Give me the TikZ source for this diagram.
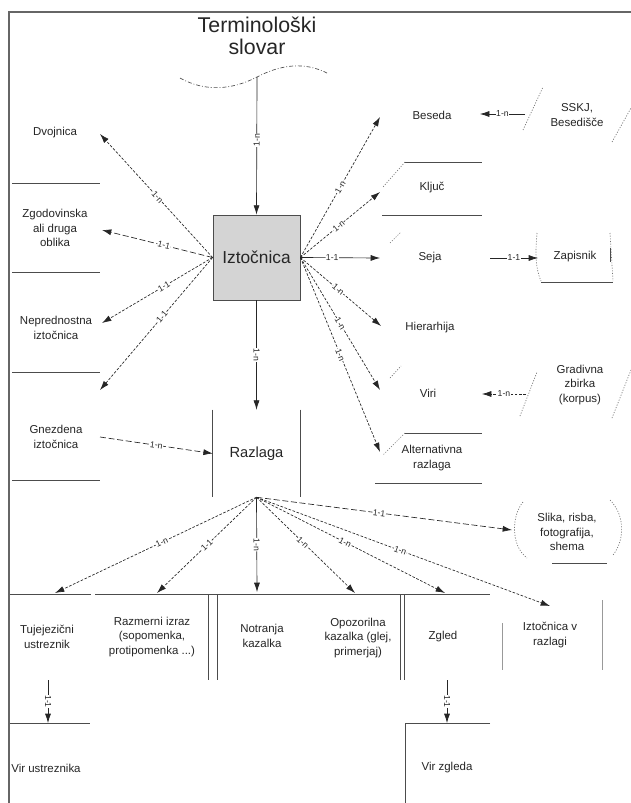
\documentclass[tikz,border=0pt]{standalone}
\usepackage{fontspec}
\setmainfont{Liberation Sans}
\usetikzlibrary{arrows.meta}
\begin{document}
\begin{tikzpicture}[x=0.75pt,y=-0.75pt,
  txt/.style={font=\fontsize{8.6}{11}\selectfont, align=center, inner sep=1pt, text=black!85},
  card/.style={font=\fontsize{6.5}{7}\selectfont, fill=white, inner sep=0.3pt, sloped, text=black!85},
  link/.style={draw=black!85, line width=0.5pt, -{Latex[length=7pt,width=4.5pt]}},
  flink/.style={link, dash pattern=on 2pt off 1.2pt},
  llink/.style={link, dash pattern=on 4.5pt off 2pt},
  edge/.style={draw=black!70, line width=0.6pt},
  dots/.style={draw=black!55, line width=0.5pt, dash pattern=on 0.8pt off 1.2pt},
  frame/.style={draw=black!60, line width=0.9pt},
]
\useasboundingbox (0,0) rectangle (631,803);
\fill[white] (0,0) rectangle (631,803);
\draw[frame] (9,803) -- (9,12) -- (631,12);

% ---- dictionary source ----
\node[font=\fontsize{16}{16.5}\selectfont, align=center, text=black!85] (slovar) at (257,36) {Terminološki\\slovar};
\coordinate (wave) at (257,77);
\draw[draw=black!70, line width=0.5pt, dash pattern=on 3pt off 1.5pt on 0.6pt off 1.5pt]
  (180,78) .. controls (205,92) and (232,90) .. (wave) .. controls (282,64) and (305,62) .. (327,73);

% ---- central entities ----
\node[draw=black!70, fill=black!17, line width=0.6pt, minimum width=65.25pt, minimum height=63.75pt,
      font=\fontsize{13}{15}\selectfont, text=black!85] (izt) at (256.5,257.5) {Iztočnica};
\node[minimum width=65.25pt, minimum height=65.25pt, inner sep=0pt,
      font=\fontsize{11}{13}\selectfont, text=black!85] (razl) at (256.5,453.5) {Razlaga};
\draw[edge] (razl.north west) -- (razl.south west) (razl.north east) -- (razl.south east);

\draw[link] (wave) -- node[card, pos=0.46]{1-n} (izt.north);
\draw[link] (izt.south) -- node[card]{1-n} (razl.north);

% ---- left column ----
\node[txt] (dvo) at (55,133) {Dvojnica};
\node[txt] (zgo) at (55,228) {Zgodovinska\\ali druga\\oblika};
\node[txt] (nep) at (56,328) {Neprednostna\\iztočnica};
\node[txt] (gne) at (56,437) {Gnezdena\\iztočnica};
\draw[edge] (12,183) -- (100,183) (12,272) -- (100,272) (12,372) -- (100,372) (12,480) -- (100,480);

\coordinate (tDvo) at (100,134);
\coordinate (tZgo) at (102,230);
\coordinate (tNep) at (102,323);
\coordinate (tGne) at (100,390);
\coordinate (sGne) at (100,437);
\draw[flink] (izt.west) -- node[card, pos=0.49]{1-n} (tDvo);
\draw[llink] (izt.west) -- node[card, pos=0.44]{1-1} (tZgo);
\draw[flink] (izt.west) -- node[card, pos=0.44]{1-1} (tNep);
\draw[flink] (izt.west) -- node[card, pos=0.45]{1-1} (tGne);
\draw[llink] (sGne) -- node[card, pos=0.5]{1-n} (razl.west);

% ---- right column ----
\node[txt] (bes) at (432,115) {Beseda};
\node[txt] (sskj) at (577,115) {SSKJ,\\Besedišče};
\node[txt] (klj) at (432,188) {Ključ};
\node[txt] (seja) at (430,258) {Seja};
\node[txt] (zap) at (575,257) {Zapisnik};
\node[txt] (hie) at (430,328) {Hierarhija};
\node[txt] (viri) at (428,393) {Viri};
\node[txt] (gra) at (580,385) {Gradivna\\zbirka\\(korpus)};
\node[txt] (alt) at (432,458) {Alternativna\\razlaga};

\draw[edge] (405,162) -- (482,162);
\draw[dots] (405,162) -- (383,187);
\draw[edge] (382,215) -- (482,215);
\draw[edge] (405,433) -- (482,433);
\draw[dots] (405,433) -- (383,455);
\draw[edge] (375,483) -- (482,483);
\draw[dots] (523,130) -- (543,87);
\draw[dots] (612,142) -- (631,108);
\draw[dots] (537,233) .. controls (535,255) and (536,270) .. (541,281);
\draw[edge] (541,282) -- (613,282);
\draw[dots] (610,233) -- (613,281);
\draw[edge] (610,248) -- (610,262);
\draw[dots] (520,416) -- (537,372);
\draw[dots] (612,418) -- (631,370);
\draw[dots] (390,243) -- (401,232);
\draw[dots] (390,378) -- (401,366);

\coordinate (tBes) at (380,117);
\coordinate (tKlj) at (380,192);
\coordinate (tSeja) at (380,258);
\coordinate (tHie) at (381,326);
\coordinate (tViri) at (380,390);
\coordinate (tAlt) at (380,452);
\draw[flink] (izt.east) -- node[card, pos=0.5]{1-n} (tBes);
\draw[flink] (izt.east) -- node[card, pos=0.48]{1-n} (tKlj);
\draw[link] (izt.east) -- node[card, pos=0.4]{1-1} (tSeja);
\draw[flink] (izt.east) -- node[card, pos=0.47]{1-n} (tHie);
\draw[flink] (izt.east) -- node[card, pos=0.5]{1-n} (tViri);
\draw[flink] (izt.east) -- node[card, pos=0.5]{1-n} (tAlt);

\coordinate (sSskj) at (525,114);
\coordinate (hBes) at (480,114);
\coordinate (sSeja) at (490,258);
\coordinate (hZap) at (538,258);
\coordinate (sGra) at (526,394);
\coordinate (hViri) at (482,394);
\draw[link] (sSskj) -- node[card]{1-n} (hBes);
\draw[link] (sSeja) -- node[card]{1-1} (hZap);
\draw[flink] (sGra) -- node[card]{1-n} (hViri);

% ---- picture attachment ----
\node[txt] (sli) at (567,532) {Slika, risba,\\fotografija,\\shema};
\draw[dots] (523,502) .. controls (512,515) and (510,545) .. (527,558);
\draw[dots] (610,500) .. controls (625,515) and (625,540) .. (613,555);
\draw[edge] (552,563) -- (607,563);
\coordinate (tSli) at (512,530);
\draw[llink] (razl.south) -- node[card, pos=0.48]{1-1} (tSli);

% ---- parts of the definition ----
\draw[edge] (10,594) -- (91,594) (95,594) -- (490,594);
\draw[edge] (208,594) -- (208,680) (217,594) -- (217,680);
\draw[edge] (400,594) -- (400,680) (404,594) -- (404,680);
\draw[edge, draw=black!40] (502,623) -- (502,670);
\draw[edge, draw=black!40] (602,600) -- (602,670);

\node[txt] (tuj) at (47,637) {Tujejezični\\ustreznik};
\node[txt] (raz) at (152,637) {Razmerni izraz\\(sopomenka,\\protipomenka ...)};
\node[txt] (not) at (262,636) {Notranja\\kazalka};
\node[txt] (opo) at (358,638) {Opozorilna\\kazalka (glej,\\primerjaj)};
\node[txt] (zgl) at (443,637) {Zgled};
\node[txt] (izv) at (550,635) {Iztočnica v\\razlagi};

\coordinate (cTuj) at (55,593);
\coordinate (cRaz) at (157,593);
\coordinate (cNot) at (257,592);
\coordinate (cOpo) at (355,593);
\coordinate (cZgl) at (445,593);
\coordinate (cIzv) at (550,606);
\draw[flink] (razl.south) -- node[card, pos=0.47]{1-n} (cTuj);
\draw[flink] (razl.south) -- node[card, pos=0.5]{1-1} (cRaz);
\draw[link] (razl.south) -- node[card, pos=0.5]{1-n} (cNot);
\draw[flink] (razl.south) -- node[card, pos=0.47]{1-n} (cOpo);
\draw[flink] (razl.south) -- node[card, pos=0.47]{1-n} (cZgl);
\draw[flink] (razl.south) -- node[card, pos=0.49]{1-n} (cIzv);

% ---- sources of equivalents and examples ----
\draw[edge] (10,723) -- (90,723);
\draw[edge] (490,723) -- (405,723) -- (405,803);
\node[txt] (vust) at (46,768) {Vir ustreznika};
\node[txt] (vzgl) at (447,768) {Vir zgleda};
\coordinate (sTuj) at (48,680);
\coordinate (hTuj) at (48,723);
\coordinate (sZgl) at (447,680);
\coordinate (hZgl) at (447,723);
\draw[link] (sTuj) -- node[card]{1-1} (hTuj);
\draw[link] (sZgl) -- node[card]{1-1} (hZgl);
\end{tikzpicture}
\end{document}
